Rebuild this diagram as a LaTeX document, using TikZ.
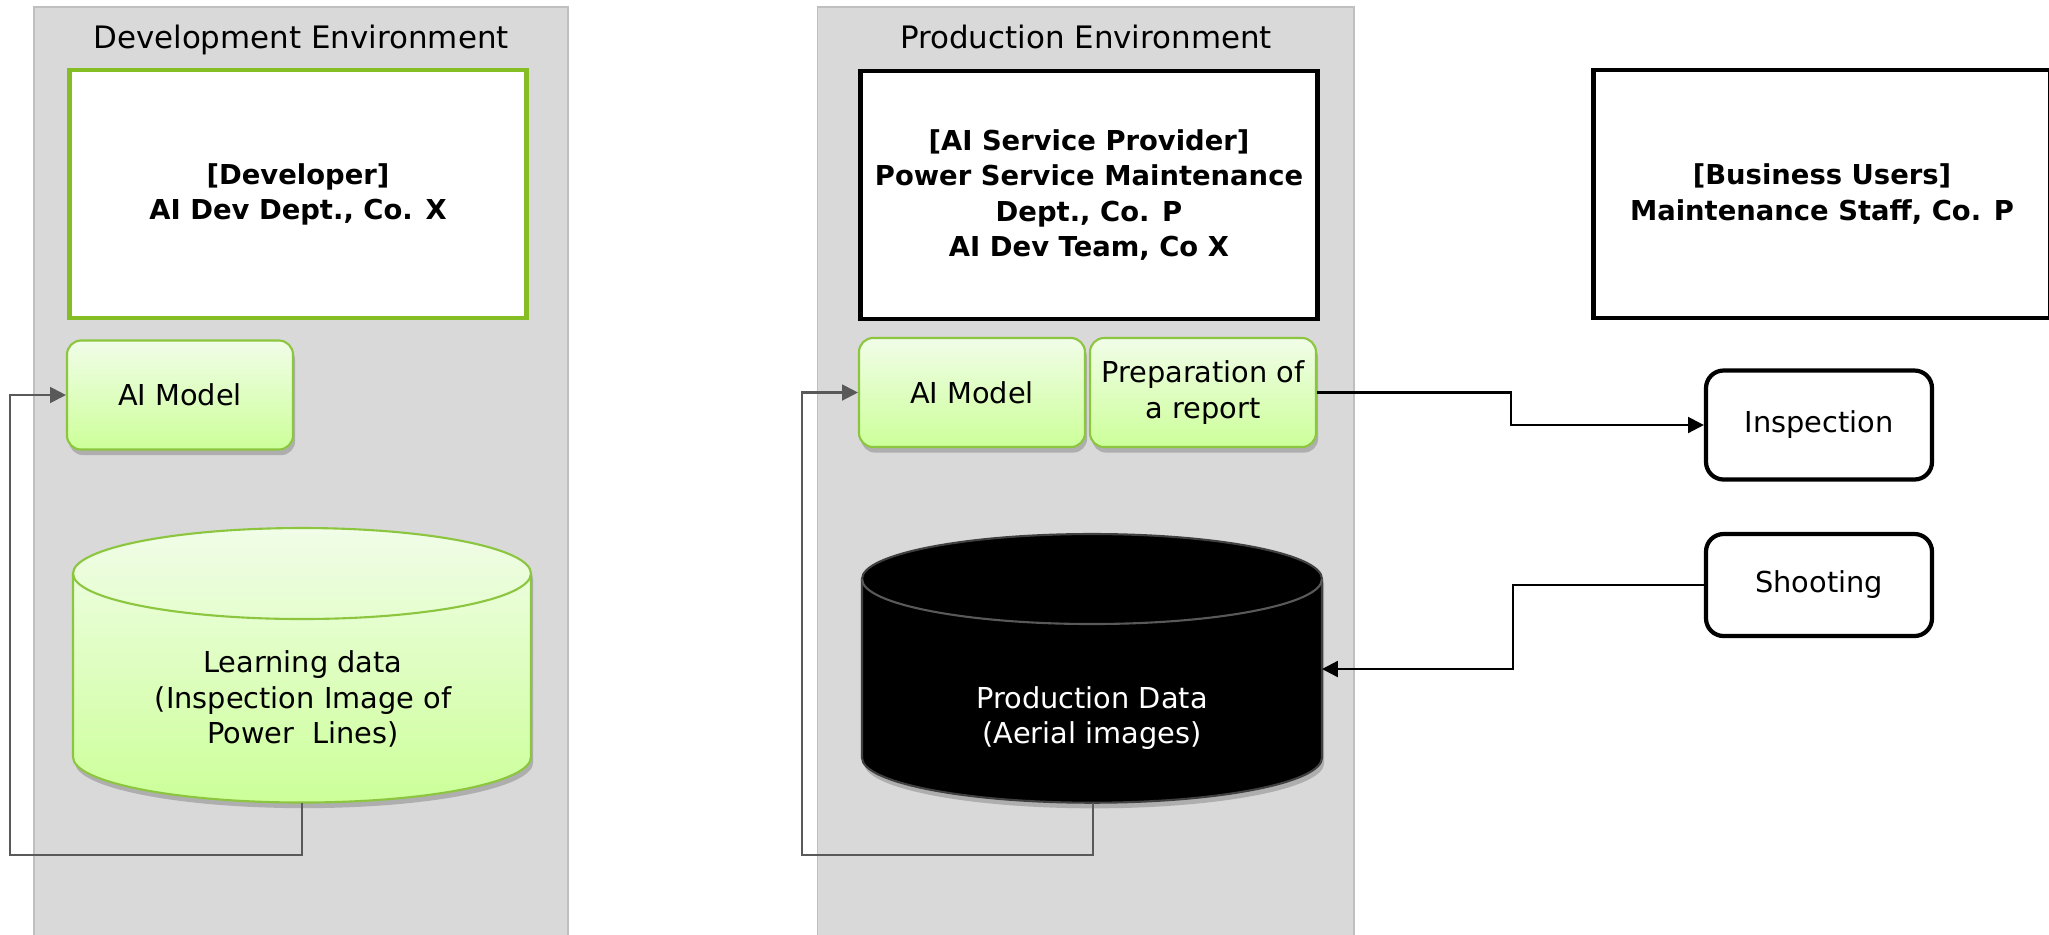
\documentclass[tikz,border=0pt]{standalone}
\usepackage{fontspec}
\setmainfont{DejaVu Sans}
\usetikzlibrary{arrows.meta,shadows}

\definecolor{panelgray}{RGB}{217,217,217}
\definecolor{panelline}{RGB}{191,191,191}
\definecolor{devgreen}{RGB}{132,189,36}
\definecolor{boxgreen}{RGB}{140,198,63}
\definecolor{lighttop}{RGB}{241,253,232}
\definecolor{lightbottom}{RGB}{204,255,153}
\definecolor{loopgray}{RGB}{89,89,89}

\begin{document}
\begin{tikzpicture}[
    panel/.style={fill=panelgray, draw=panelline, line width=0.5pt},
    paneltitle/.style={anchor=base, font=\fontsize{8.8}{10}\selectfont},
    ownerbox/.style={draw, fill=white, line width=1.2pt, minimum width=4.57cm,
      minimum height=2.48cm, inner sep=0pt, align=center,
      font=\bfseries\fontsize{7.8}{10}\selectfont},
    funcbox/.style={draw=boxgreen, line width=0.6pt, rounded corners=4pt,
      top color=lighttop, bottom color=lightbottom, minimum width=2.26cm,
      minimum height=1.09cm, inner sep=0pt, align=center,
      font=\fontsize{8.2}{10}\selectfont,
      drop shadow={shadow xshift=0.6pt, shadow yshift=-1.6pt, opacity=0.3, fill=black!70}},
    userbox/.style={draw, fill=white, line width=1.2pt, rounded corners=5pt,
      minimum width=2.26cm, inner sep=0pt, align=center,
      font=\fontsize{8.2}{10}\selectfont},
    datatext/.style={align=center, font=\fontsize{8.2}{10}\selectfont},
    loopline/.style={draw=loopgray, line width=0.6pt, -{Triangle[length=4.5pt,width=4.5pt]}},
    flowline/.style={draw=black, line width=0.7pt, -{Triangle[length=4.5pt,width=4.5pt]}}
  ]
    \useasboundingbox (0,0) rectangle (20.49,-9.34);

    % environments
    \draw[panel] (0.34,-0.07) rectangle (5.68,-9.6);
    \draw[panel] (8.175,-0.07) rectangle (13.54,-9.6);
    \node[paneltitle] (devtitle) at (3.01,-0.485) {Development Environment};
    \node[paneltitle] (prodtitle) at (10.86,-0.485) {Production Environment};

    % stakeholders
    \node[ownerbox, draw=devgreen] (developer) at (2.98,-1.94) {[Developer]\\AI Dev Dept., Co. X};
    \node[ownerbox] (provider) at (10.89,-1.95) {[AI Service Provider]\\Power Service Maintenance\\Dept., Co. P\\AI Dev Team, Co X};
    \node[ownerbox] (business) at (18.22,-1.94) {[Business Users]\\Maintenance Staff, Co. P};

    % functions
    \node[funcbox] (devmodel) at (1.80,-3.95) {AI Model};
    \node[funcbox] (prodmodel) at (9.72,-3.925) {AI Model};
    \node[funcbox] (prep) at (12.03,-3.925) {Preparation of\\a report};
    \node[userbox, minimum height=1.09cm] (inspection) at (18.19,-4.25) {Inspection};
    \node[userbox, minimum height=1.02cm] (shooting) at (18.19,-5.85) {Shooting};

    % data stores
    \path[draw=boxgreen, line width=0.6pt, top color=lighttop, bottom color=lightbottom,
      drop shadow={shadow xshift=0.6pt, shadow yshift=-1.6pt, opacity=0.3, fill=black!70}]
      (0.73,-5.735) -- (0.73,-7.57)
      arc[start angle=180, end angle=360, x radius=2.29cm, y radius=0.455cm]
      -- (5.31,-5.735)
      arc[start angle=0, end angle=180, x radius=2.29cm, y radius=0.455cm] -- cycle;
    \draw[boxgreen, line width=0.6pt] (0.73,-5.735)
      arc[start angle=180, end angle=360, x radius=2.29cm, y radius=0.455cm];
    \path[draw=black!75, line width=0.6pt, fill=black,
      drop shadow={shadow xshift=0.6pt, shadow yshift=-1.6pt, opacity=0.3, fill=black!70}]
      (8.62,-5.79) -- (8.62,-7.577)
      arc[start angle=180, end angle=360, x radius=2.30cm, y radius=0.45cm]
      -- (13.22,-5.79)
      arc[start angle=0, end angle=180, x radius=2.30cm, y radius=0.45cm] -- cycle;
    \draw[black!65, line width=0.6pt] (8.62,-5.79)
      arc[start angle=180, end angle=360, x radius=2.30cm, y radius=0.45cm];
    \node[datatext] (devdata) at (3.03,-6.99) {Learning data\\(Inspection Image of\\Power\ \ Lines)};
    \node[datatext, text=white] (proddata) at (10.92,-7.18) {Production Data\\(Aerial images)};

    \coordinate (devbottom) at (3.02,-8.03);
    \coordinate (devturn) at (0.096,-8.55);
    \coordinate (prodbottom) at (10.93,-8.03);
    \coordinate (prodturn) at (8.02,-8.55);
    \coordinate (prodside) at (13.22,-6.69);
    \coordinate (insbend) at (15.11,-4.25);
    \coordinate (shootbend) at (15.13,-6.69);

    % connectors
    \draw[loopline] (devbottom) |- (devturn) |- (devmodel.west);
    \draw[loopline] (prodbottom) |- (prodturn) |- (prodmodel.west);
    \draw[flowline] (prep.east) -| (insbend) -- (inspection.west);
    \draw[flowline] (shooting.west) -| (shootbend) -- (prodside);
  \end{tikzpicture}
\end{document}
